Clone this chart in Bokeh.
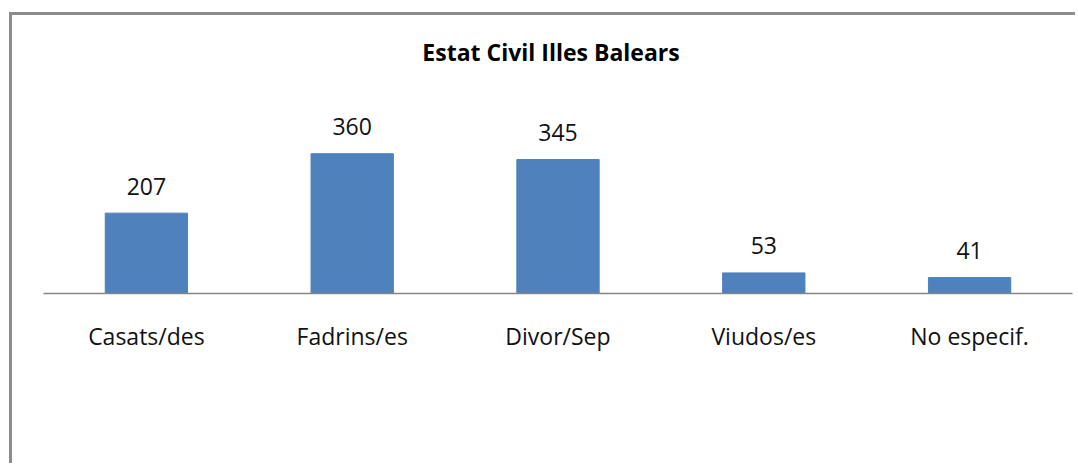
from bokeh.plotting import figure
from bokeh.models import ColumnDataSource, LabelSet, Label, FactorRange, Range1d
from bokeh.core.properties import value
from bokeh.embed import file_html
from bokeh.resources import INLINE

categories = ["Casats/des", "Fadrins/es", "Divor/Sep", "Viudos/es", "No especif."]
values = [207, 360, 345, 53, 41]
title_text = "Estat Civil Illes Balears"

FONT = "Open Sans"

source = ColumnDataSource(data=dict(cat=categories, val=values, lbl=[str(v) for v in values]))

p = figure(
    width=1066, height=451,
    x_range=FactorRange(*categories),
    y_range=Range1d(0, 716),
    output_backend="svg", toolbar_location=None,
    y_axis_location=None,
    min_border_left=31, min_border_right=6, min_border_top=0, min_border_bottom=173,
)
p.styles = {
    "margin-left": "9px",
    "margin-top": "12px",
    "border-left": "3px solid #8c8c8c",
    "border-top": "3px solid #8c8c8c",
}
p.outline_line_color = None
p.background_fill_color = "white"
p.border_fill_color = "white"
p.xgrid.visible = False
p.ygrid.visible = False

p.vbar(x="cat", top="val", width=0.4, source=source,
       fill_color="#4f81bd", line_color="#4f81bd", line_width=1)

labels = LabelSet(x="cat", y="val", text="lbl", source=source,
                  text_align="center", text_baseline="middle", y_offset=27,
                  text_font=value(FONT), text_font_size=value("23px"),
                  text_color=value("#111111"))
p.add_layout(labels)

p.add_layout(Label(x=2.5, y=621, x_offset=-7, text=title_text,
                   text_align="center", text_baseline="middle",
                   text_font=FONT, text_font_style="bold", text_font_size="23px",
                   text_color="#000000"))

ax = p.xaxis[0]
ax.axis_line_color = "#868686"
ax.axis_line_width = 1.5
ax.major_tick_line_color = None
ax.minor_tick_line_color = None
ax.major_tick_out = 0
ax.major_tick_in = 0
ax.major_label_standoff = 26
ax.major_label_text_font = FONT
ax.major_label_text_font_size = "23px"
ax.major_label_text_color = "#111111"

open("out.html", "w").write(file_html(p, INLINE))
